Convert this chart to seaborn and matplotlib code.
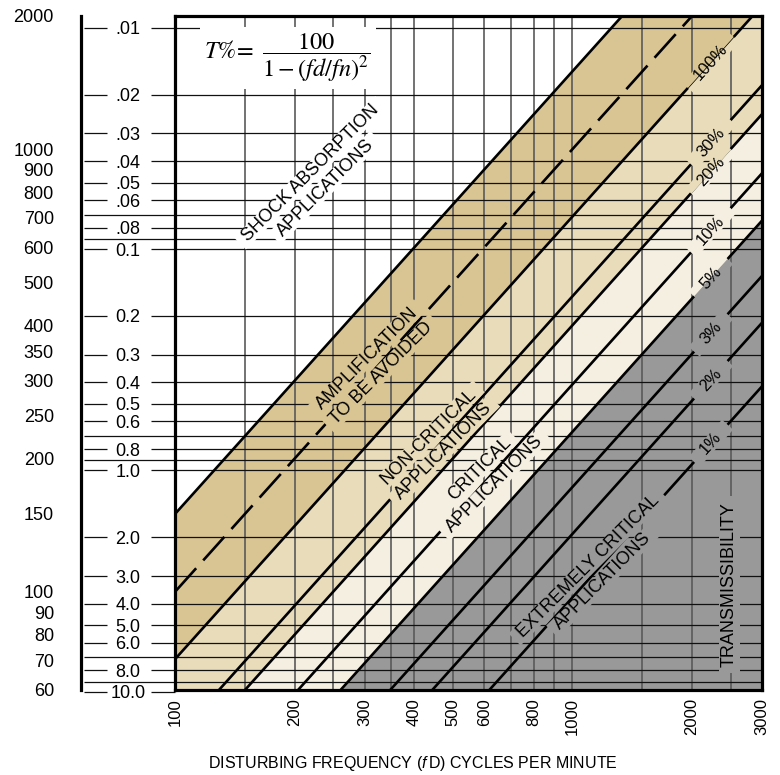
import numpy as np
import pandas as pd
import matplotlib
matplotlib.use('Agg')
import matplotlib.pyplot as plt
import matplotlib.transforms as mtransforms
from matplotlib.patches import Polygon
from matplotlib.ticker import NullLocator
import seaborn as sns

# diagonal lines: fd/fn ratio
line_names = ['shock limit', 'resonance', '100%', '30%', '20%', '10%', '5%', '3%', '2%', '1%']
line_ratio = [0.667, 1.0, 1.42, 2.15, 2.5, 3.4, 4.35, 5.8, 7.4, 10.3]
line_kind = ['solid', 'dashed', 'solid', 'solid', 'solid', 'solid', 'solid', 'solid', 'solid', 'solid']

# shaded bands between two of the lines (None = past the axis limit)
band_upper = [None, 0.667, 1.42, 2.5, 4.35]
band_lower = [0.667, 1.42, 2.5, 4.35, None]
band_colors = ['white', '#d9c593', '#e8dcba', '#f5efe2', '#999999']

# natural frequency scale (cpm)
fn_ticks = [60, 70, 80, 90, 100, 150, 200, 250, 300, 350, 400, 500, 600, 700, 800, 900, 1000, 2000]

# static deflection scale (inches)
defl_values = [.01, .02, .03, .04, .05, .06, .07, .08, .09, .1, .2, .3, .4, .5, .6, .7, .8, .9,
               1.0, 2.0, 3.0, 4.0, 5.0, 6.0, 7.0, 8.0, 9.0, 10.0]
defl_labels = ['.01', '.02', '.03', '.04', '.05', '.06', '', '.08', '', '0.1', '0.2', '0.3', '0.4',
               '0.5', '0.6', '', '0.8', '', '1.0', '2.0', '3.0', '4.0', '5.0', '6.0', '', '8.0', '', '10.0']

# disturbing frequency scale (cpm)
fd_ticks = [100, 200, 300, 400, 500, 600, 800, 1000, 2000, 3000]
fd_grid = [150, 200, 250, 300, 350, 400, 500, 600, 700, 800, 900, 1000, 1500, 2000, 2500]

# transmissibility labels, placed on lines 2.. at this fd
pct_labels = ['100%', '30%', '20%', '10%', '5%', '3%', '2%', '1%']
pct_fd = 2230

# area captions (two lines each) and where they sit
area_text = [('SHOCK ABSORPTION', 'APPLICATIONS'), ('AMPLIFICATION', 'TO BE AVOIDED'),
             ('NON-CRITICAL', 'APPLICATIONS'), ('CRITICAL', 'APPLICATIONS'),
             ('EXTREMELY CRITICAL', 'APPLICATIONS')]
area_fd = [229, 317, 454, 610, 1143]
area_fn = [851, 324, 216, 182, 110]


def defl_to_fn(d):
    # static deflection (in) -> natural frequency (cpm)
    return 188.0 / np.sqrt(d)


sns.set_style('white', {'axes.edgecolor': 'black', 'text.color': 'black',
                        'xtick.color': 'black', 'ytick.color': 'black', 'axes.labelcolor': 'black'})
plt.rcParams['font.family'] = ['Liberation Sans', 'DejaVu Sans']
plt.rcParams['mathtext.fontset'] = 'custom'
plt.rcParams['mathtext.rm'] = 'Liberation Sans'
plt.rcParams['mathtext.it'] = 'Liberation Sans:italic'

fig = plt.figure(figsize=(7.8, 7.75), dpi=100)
ax = fig.add_axes([175 / 780, 85 / 775, 587 / 780, 674 / 775])
axd = fig.add_axes([81 / 780, 85 / 775, 94 / 780, 674 / 775], zorder=-1)

ax.set_xscale('log')
ax.set_yscale('log')

xs = np.array([100.0, 3000.0])
fill_specs = []
for up, lo, col in zip(band_upper, band_lower, band_colors):
    y_hi = xs / up if up else np.array([1e5, 1e5])
    y_lo = xs / lo if lo else np.array([1.0, 1.0])
    fill_specs.append((y_lo, y_hi, col))
    ax.fill_between(xs, y_lo, y_hi, color=col, lw=0, zorder=0.5)

# grid
ax.vlines(fd_grid, 60, 2000, color='#5a5a5a', lw=1.2, zorder=1)
ax.hlines(defl_to_fn(np.array(defl_values)), 100, 3000, color='#111111', lw=0.9, zorder=1)

# transmissibility lines
rows = []
for name, r, kind in zip(line_names, line_ratio, line_kind):
    for fd in xs:
        rows.append({'line': name, 'kind': kind, 'fd': fd, 'fn': fd / r})
lines_df = pd.DataFrame(rows)
sns.lineplot(data=lines_df, x='fd', y='fn', units='line', estimator=None, style='kind',
             dashes={'solid': '', 'dashed': (12, 4)}, color='black', lw=1.9,
             legend=False, ax=ax, zorder=2)

ax.set_xlim(100, 3000)
ax.set_ylim(60, 2000)
ax.set_xticks(fd_ticks, [str(v) for v in fd_ticks])
ax.xaxis.set_minor_locator(NullLocator())
ax.yaxis.set_major_locator(NullLocator())
ax.yaxis.set_minor_locator(NullLocator())
ax.tick_params(axis='x', length=0, pad=6, labelsize=12, labelrotation=90)
ax.set_ylabel('')
ax.set_xlabel(r'DISTURBING FREQUENCY ($\mathit{f}\,\mathrm{D}$) CYCLES PER MINUTE', fontsize=11.5)
ax.xaxis.set_label_coords(0.405, -0.095)
for s in ax.spines.values():
    s.set_linewidth(2.3)
    s.set_color('black')
    s.set_zorder(5)

# left scales
axd.set_yscale('log')
axd.set_ylim(60, 2000)
axd.set_xlim(0, 1)
axd.patch.set_alpha(0)
for s in ['top', 'right', 'bottom']:
    axd.spines[s].set_visible(False)
axd.spines['left'].set_linewidth(2.3)
axd.set_xticks([])
axd.set_yticks(fn_ticks, [str(v) for v in fn_ticks])
axd.yaxis.set_minor_locator(NullLocator())
axd.tick_params(axis='y', length=14.5, width=1.3, color='#3c3c3c', pad=5, labelsize=13)
for d, lab in zip(defl_values, defl_labels):
    y = defl_to_fn(d)
    if lab:
        axd.hlines(y, 0.03, 0.28, color='#111111', lw=0.9, clip_on=False)
        axd.hlines(y, 0.74, 1.0, color='#111111', lw=0.9, clip_on=False)
        axd.text(0.5, y, lab, ha='center', va='center_baseline', fontsize=13, clip_on=False)
    else:
        axd.hlines(y, 0.03, 1.0, color='#111111', lw=0.9, clip_on=False)

# formula
ax.text(0.192, 0.938, r'$T\%\!=\ \dfrac{100}{1-(fd/fn)^2}$', transform=ax.transAxes,
        ha='center', va='center', fontsize=17.5, math_fontfamily='stix',
        bbox=dict(boxstyle='square,pad=0.2', fc='white', ec='none'), zorder=4)

renderer = fig.canvas.get_renderer()
p0 = ax.transData.transform((100, 100))
p1 = ax.transData.transform((1000, 1000))
line_angle = np.degrees(np.arctan2(p1[1] - p0[1], p1[0] - p0[0]))


def knockout_label(s, fd, fn, rot, size, off=(0.0, 0.0), pad_w=6, pad_h=0):
    # text with a gap cut in the grid and lines behind it (fills are redrawn on top)
    t = ax.annotate(s, xy=(fd, fn), xytext=off, textcoords='offset pixels', ha='center',
                    va='center', rotation=0, rotation_mode='anchor', fontsize=size, zorder=3)
    bb = t.get_window_extent(renderer)
    t.set_rotation(rot)
    w = bb.width + 2 * pad_w
    h = bb.height + 2 * pad_h
    cx, cy = ax.transData.transform((fd, fn)) + np.array(off)
    tr = mtransforms.Affine2D().rotate_deg(rot).translate(cx, cy)
    corners = tr.transform([(-w / 2, -h / 2), (w / 2, -h / 2), (w / 2, h / 2), (-w / 2, h / 2)])
    clip = Polygon(corners, closed=True, transform=mtransforms.IdentityTransform())
    for y_lo, y_hi, col in fill_specs:
        pc = ax.fill_between(xs, y_lo, y_hi, color=col, lw=0, zorder=2.4)
        pc.set_clip_path(clip)


for lab, r in zip(pct_labels, line_ratio[2:]):
    knockout_label(lab, pct_fd, pct_fd / r, line_angle, 12, pad_w=13)

spacing = 21.0
ang = np.radians(45)
up = np.array([-np.sin(ang), np.cos(ang)])
for (l1, l2), fd, fn in zip(area_text, area_fd, area_fn):
    knockout_label(l1, fd, fn, 45, 13, off=tuple(up * spacing / 2), pad_w=7)
    knockout_label(l2, fd, fn, 45, 13, off=tuple(-up * spacing / 2), pad_w=7)

knockout_label('TRANSMISSIBILITY', 2485, 104, 90, 13, pad_w=6, pad_h=2)

fig.savefig('out.png', dpi=100)
